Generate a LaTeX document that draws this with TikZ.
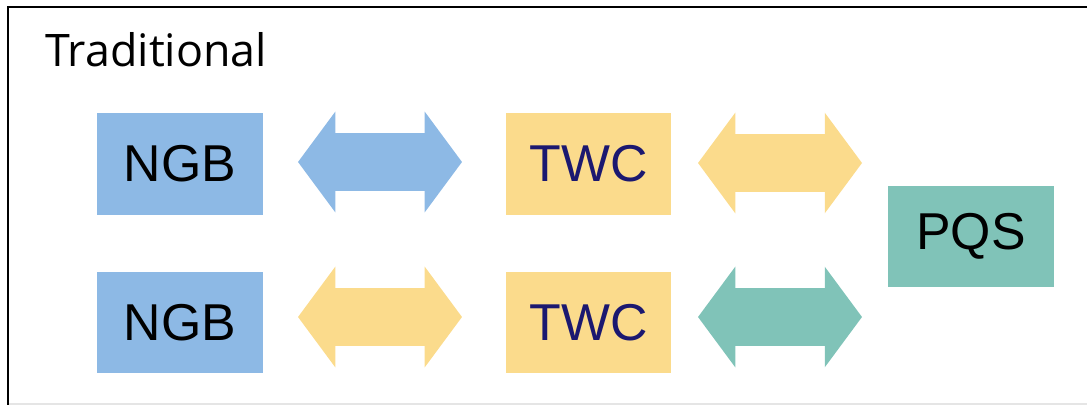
\documentclass[tikz,border=0pt]{standalone}
\usepackage{fontspec}
\setmainfont{Liberation Sans}
\newfontfamily\titlefont{Open Sans}
\usetikzlibrary{shapes.arrows}
\definecolor{ngbblue}{HTML}{8DB9E5}
\definecolor{twcyellow}{HTML}{FBDB8C}
\definecolor{pqsteal}{HTML}{80C3B8}
\definecolor{twcnavy}{HTML}{1B1870}

\begin{document}
\begin{tikzpicture}
[x=0.02cm,y=-0.02cm,
box/.style={rectangle,inner sep=0pt,minimum width=3.32cm,minimum height=2.04cm,font=\fontsize{29.5}{32}\selectfont},
dblarrow/.style={double arrow,inner xsep=0pt,inner ysep=0.57cm,minimum height=3.28cm,
  double arrow head extend=0.43cm,double arrow tip angle=107}]
\useasboundingbox (0,0) rectangle (1087,405);
\draw[black!10,line width=0.03cm] (8,404) -- (1087,404);
\draw[line width=0.045cm] (8,405) -- (8,7) -- (1087,7);
\node[anchor=base west,inner sep=0pt,font=\titlefont\fontsize{25.5}{30}\selectfont] (title) at (45,67) {Traditional};
\node[box,fill=ngbblue] (ngb1) at (180,164) {NGB};
\node[box,fill=twcyellow,text=twcnavy] (twc1) at (588.5,164) {TWC};
\node[box,fill=ngbblue] (ngb2) at (180,322.5) {NGB};
\node[box,fill=twcyellow,text=twcnavy] (twc2) at (588.5,322.5) {TWC};
\node[box,fill=pqsteal] (pqs) at (971,236.5) {PQS};
\node[dblarrow,fill=ngbblue] (a1) at (380,162) {};
\node[dblarrow,fill=twcyellow] (a2) at (780,163) {};
\node[dblarrow,fill=twcyellow] (a3) at (380,317) {};
\node[dblarrow,fill=pqsteal] (a4) at (780,317) {};
\end{tikzpicture}
\end{document}
